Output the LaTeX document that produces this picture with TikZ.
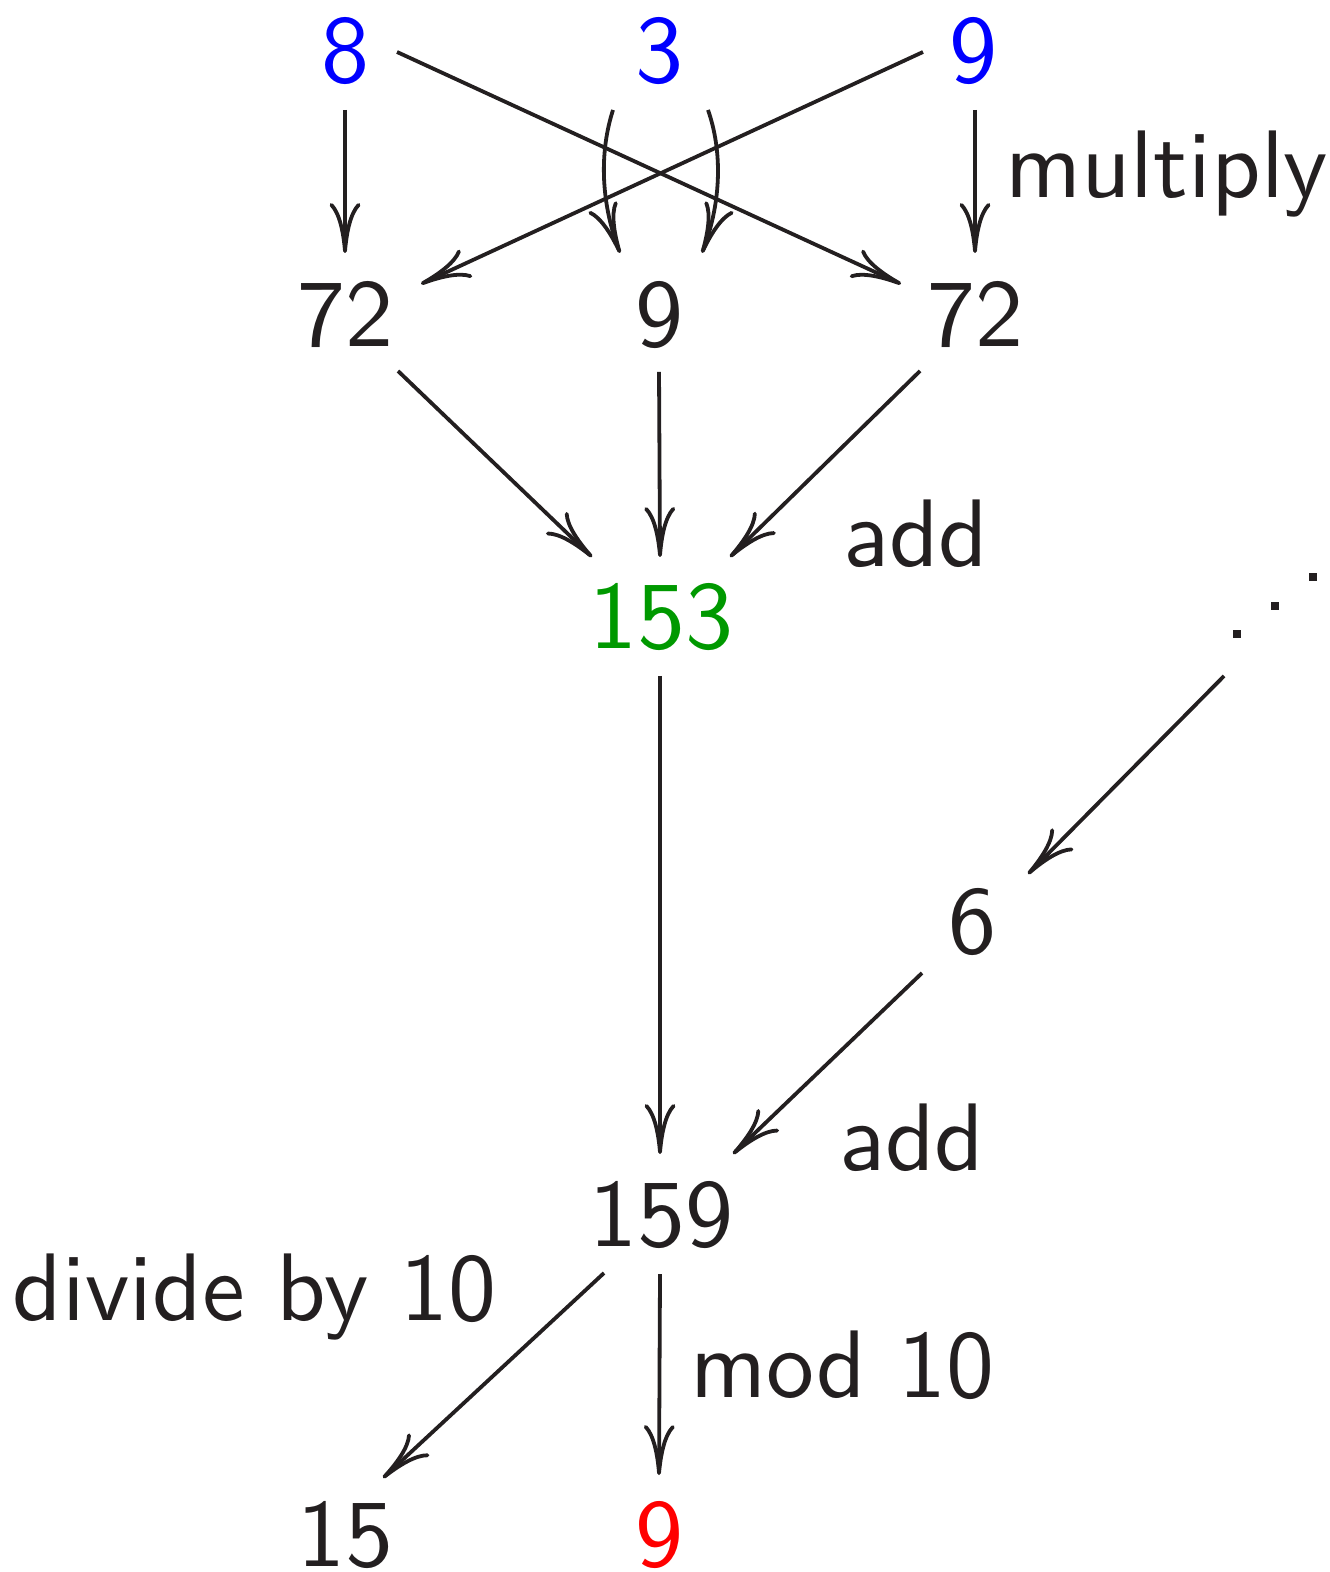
\documentclass[tikz,border=0pt]{standalone}
\usetikzlibrary{arrows.meta}
\definecolor{ink}{RGB}{35,31,32}
\definecolor{inblue}{RGB}{0,0,255}
\definecolor{sumgreen}{RGB}{0,153,0}
\definecolor{outred}{RGB}{255,0,0}
\begin{document}
\begin{tikzpicture}[x=0.1pt,y=-0.1pt,
  every node/.style={inner sep=0pt,outer sep=0pt,text=ink,
    font=\fontsize{9.6pt}{11pt}\selectfont\sffamily},
  num/.style={anchor=base},
  lbl/.style={anchor=base west},
  arr/.style={draw=ink,line width=0.38pt,
    -{Computer Modern Rightarrow[length=5pt,width=3.1pt]}}]
\useasboundingbox (0,0) rectangle (1329,1572);

% digits of the two factors
\node[num,text=inblue] (eight) at (345,83) {8};
\node[num,text=inblue] (three) at (659,83) {3};
\node[num,text=inblue] (nineT) at (973,83) {9};

% partial products
\node[num] (pl) at (345,347) {72};
\node[num] (pm) at (659,347) {9};
\node[num] (pr) at (975,347) {72};

% column sum and carry
\node[num,text=sumgreen] (sum) at (661,648) {153};
\node (dots) at (1275,606) {};
\node[num] (carry) at (972,953) {6};
\node[num] (total) at (661,1246) {159};

% results
\node[num] (quot) at (345,1566) {15};
\node[num,text=outred] (digit) at (659,1566) {9};

% operation labels
\node[lbl] (lmul) at (1005,198) {multiply};
\node[lbl] (ladd1) at (843,567) {add};
\node[lbl] (ladd2) at (839,1170) {add};
\node[lbl] (ldiv) at (13,1320) {divide by 10};
\node[lbl] (lmod) at (690,1397) {mod 10};

% ascending dots
\foreach \d in {-1,0,1}
  \fill[ink] ([shift={(38*\d-4,-28.5*\d-4)}]dots.center) rectangle +(8,8);

% multiplication arrows
\draw[arr] ([shift={(0,27)}]eight.base) -- ([shift={(0,-94)}]pl.base);
\draw[arr] ([shift={(52,-31)}]eight.base) -- ([shift={(-74,-63)}]pr.base);
\draw[arr] ([shift={(-46,27)}]three.base) .. controls +(-13,40) and +(-20,-53) .. ([shift={(-39,-94)}]pm.base);
\draw[arr] ([shift={(49,27)}]three.base) .. controls +(14,40) and +(20,-53) .. ([shift={(43,-94)}]pm.base);
\draw[arr] ([shift={(-50,-31)}]nineT.base) -- ([shift={(76,-63)}]pl.base);
\draw[arr] ([shift={(2,27)}]nineT.base) -- ([shift={(0,-94)}]pr.base);

% addition arrows
\draw[arr] ([shift={(53,24)}]pl.base) -- ([shift={(-69,-91)}]sum.base);
\draw[arr] ([shift={(0,25)}]pm.base) -- ([shift={(-1,-91)}]sum.base);
\draw[arr] ([shift={(-55,24)}]pr.base) -- ([shift={(69,-91)}]sum.base);

% carry into the next column
\draw[arr] ([shift={(-1,28)}]sum.base) -- ([shift={(-1,-92)}]total.base);
\draw[arr] ([shift={(-51,70)}]dots.center) -- ([shift={(56,-79)}]carry.base);
\draw[arr] ([shift={(-50,20)}]carry.base) -- ([shift={(72,-92)}]total.base);

% split into quotient and digit
\draw[arr] ([shift={(-57,27)}]total.base) -- ([shift={(38,-88)}]quot.base);
\draw[arr] ([shift={(-1,28)}]total.base) -- ([shift={(0,-91)}]digit.base);
\end{tikzpicture}
\end{document}
